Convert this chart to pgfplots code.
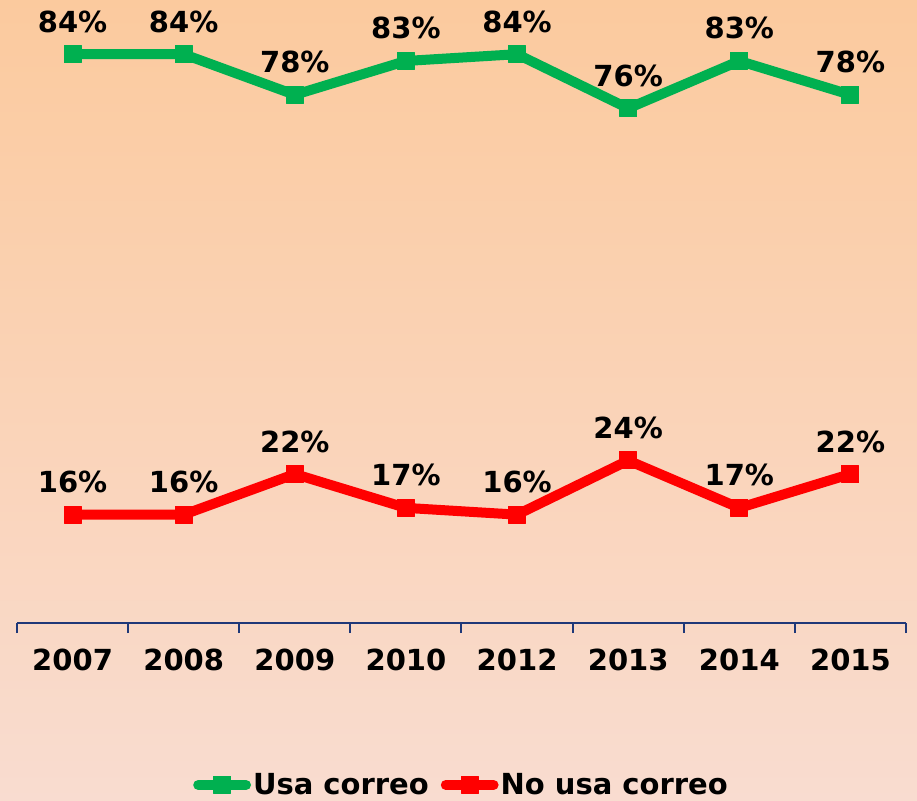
\documentclass[border=0pt]{standalone}
\usepackage{pgfplots}
\pgfplotsset{compat=1.18}
\usepackage{fontspec}
\setmainfont{DejaVu Sans}
\definecolor{axnavy}{RGB}{31,56,120}
\definecolor{usagreen}{RGB}{0,176,80}
\definecolor{bgtop}{RGB}{251,202,158}
\definecolor{bgbot}{RGB}{249,220,208}
\newcommand{\lblfont}{\bfseries\fontsize{14.5}{17}\selectfont}
\begin{document}
\begin{tikzpicture}
\shade[top color=bgtop, bottom color=bgbot] (0,0) rectangle (458.5pt,400pt);
\begin{axis}[
    at={(8.5pt,88.5pt)}, anchor=south west,
    scale only axis,
    width=444.5pt, height=311.5pt,
    xmin=-0.5, xmax=7.5,
    ymin=0, ymax=92,
    clip=false,
    axis x line*=bottom,
    axis y line=none,
    axis line style={axnavy, line width=1pt},
    xtick={0,...,7},
    xticklabels={2007,2008,2009,2010,2012,2013,2014,2015},
    major tick length=0pt,
    extra x ticks={-0.5,0.5,...,7.5},
    extra x tick labels={},
    extra x tick style={major tick length=5pt, tick align=outside,
        tick style={axnavy, line width=1pt}},
    /pgf/number format/assume math mode=true,
    xticklabel style={font=\lblfont, anchor=base, yshift=-23.5pt},
    nodes near coords={\pgfmathprintnumber{\pgfplotspointmeta}\%},
    every node near coord/.append style={font=\lblfont, text=black, anchor=base, yshift=11pt},
    legend style={at={(0.5,-0.26)}, anchor=center, draw=none, fill=none,
        legend columns=-1, font=\lblfont, column sep=0pt,
        nodes={inner xsep=1pt},
        /tikz/every even column/.append style={column sep=5pt}},
    legend image code/.code={\draw[mark repeat=2, mark phase=2, #1]
        plot coordinates {(0cm,0cm) (0.42cm,0cm) (0.84cm,0cm)};},
]
\addplot+[usagreen, line width=5pt, line cap=round, line join=round,
    mark=square*, mark size=4.25pt,
    mark options={solid, fill=usagreen, draw=usagreen, line width=0.5pt, rounded corners=1pt}]
    coordinates {(0,84) (1,84) (2,78) (3,83) (4,84) (5,76) (6,83) (7,78)};
\addlegendentry{Usa correo}
\addplot+[red, line width=5pt, line cap=round, line join=round,
    mark=square*, mark size=4.25pt,
    mark options={solid, fill=red, draw=red, line width=0.5pt, rounded corners=1pt}]
    coordinates {(0,16) (1,16) (2,22) (3,17) (4,16) (5,24) (6,17) (7,22)};
\addlegendentry{No usa correo}
\end{axis}
\pgfresetboundingbox
\path[use as bounding box] (0,0) rectangle (458.5pt,400pt);
\end{tikzpicture}
\end{document}
